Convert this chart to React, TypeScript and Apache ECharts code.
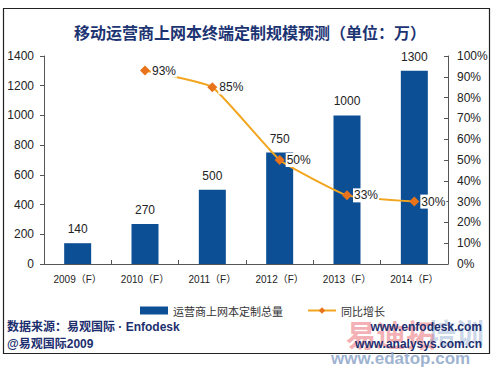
import React, { useEffect, useRef } from "react";
import * as echarts from "echarts";

const categories = ["2009（F）", "2010（F）", "2011（F）", "2012（F）", "2013（F）", "2014（F）"];
const totalVolume = [140, 270, 500, 750, 1000, 1300];
const yoyGrowth: (number | null)[] = [null, 93, 85, 50, 33, 30];
const seriesNames = ["运营商上网本定制总量", "同比增长"];
const titleText = "移动运营商上网本终端定制规模预测（单位：万）";
const sourceLines = ["数据来源：易观国际 · Enfodesk", "@易观国际2009"];
const siteLines = ["www.enfodesk.com", "www.analysys.com.cn"];
const watermark = ["易迪拓", "培训", "www.edatop.com"];

const FONT = "Liberation Sans, Arial, Noto Sans CJK SC, sans-serif";

export default function App() {
  const ref = useRef<HTMLDivElement>(null);
  useEffect(() => {
    if (!ref.current) return;
    const chart = echarts.init(ref.current, null, { renderer: "svg" });
    chart.setOption({
      animation: false,
      backgroundColor: "#ffffff",
      textStyle: { fontFamily: FONT },
      title: {
        text: titleText,
        left: "center",
        top: 19,
        textStyle: { fontSize: 16, fontWeight: "bold", color: "#1d3473", fontFamily: "Noto Sans CJK SC, sans-serif" },
      },
      grid: { left: 44, right: 52, top: 56, bottom: 104, containLabel: false },
      legend: {
        bottom: 47,
        left: 135,
        itemGap: 24,
        itemWidth: 28,
        itemHeight: 8,
        textStyle: { fontSize: 11, color: "#333", fontFamily: "Noto Sans CJK SC, sans-serif" },
        data: [
          { name: seriesNames[0], icon: "rect" },
          { name: seriesNames[1] },
        ],
      },
      xAxis: {
        type: "category",
        data: categories,
        axisLine: { lineStyle: { color: "#555", width: 1 } },
        axisTick: { show: true, alignWithLabel: false, length: 4, inside: true, lineStyle: { color: "#555" } },
        axisLabel: { fontSize: 10, color: "#222", margin: 10 },
      },
      yAxis: [
        {
          type: "value",
          min: 0,
          max: 1400,
          interval: 200,
          axisLine: { show: true, lineStyle: { color: "#555" } },
          axisTick: { show: true, length: 4, lineStyle: { color: "#555" } },
          splitLine: { show: false },
          axisLabel: { fontSize: 12, color: "#222", margin: 10, formatter: (v: number) => String(v) },
        },
        {
          type: "value",
          min: 0,
          max: 100,
          interval: 10,
          position: "right",
          axisLine: { show: true, lineStyle: { color: "#555" } },
          axisTick: { show: true, inside: true, length: 4, lineStyle: { color: "#555" } },
          splitLine: { show: false },
          axisLabel: { fontSize: 12, color: "#222", margin: 9, formatter: "{value}%" },
        },
      ],
      series: [
        {
          name: seriesNames[0],
          type: "bar",
          data: totalVolume,
          barWidth: 27,
          itemStyle: { color: "#0d4f94" },
          label: { show: true, position: "top", fontSize: 12, color: "#222", distance: 8 },
        },
        {
          name: seriesNames[1],
          type: "line",
          yAxisIndex: 1,
          data: yoyGrowth,
          smooth: 0.12,
          symbol: "diamond",
          symbolSize: 10,
          lineStyle: { color: "#f2a51e", width: 2 },
          itemStyle: { color: "#e8731a" },
          label: {
            show: true,
            position: "right",
            distance: 1,
            formatter: "{c}%",
            fontSize: 12,
            color: "#222",
            backgroundColor: "#ffffff",
            padding: [1, 1, 1, 1],
          },
        },
      ],
      graphic: [
        {
          type: "rect",
          shape: { x: 3.5, y: 8.5, width: 486, height: 345 },
          style: { fill: "none", stroke: "#222", lineWidth: 1.2 },
          silent: true,
        },
        {
          type: "text",
          left: 7,
          top: 321,
          style: { text: sourceLines[0], fontSize: 12, fontWeight: "bold", fill: "#1d2f6e", fontFamily: "Liberation Sans, Noto Sans CJK SC, sans-serif" },
        },
        {
          type: "text",
          left: 7,
          top: 338,
          style: { text: sourceLines[1], fontSize: 12, fontWeight: "bold", fill: "#1d2f6e", fontFamily: "Liberation Sans, Noto Sans CJK SC, sans-serif" },
        },
        {
          type: "text",
          x: 346,
          y: 318,
          style: { text: watermark[0], fontSize: 30, fontWeight: "bold", fill: "rgba(232,100,110,0.5)", fontFamily: "Noto Sans CJK SC, sans-serif" },
          z: 1,
        },
        {
          type: "text",
          x: 428,
          y: 318,
          style: { text: watermark[1], fontSize: 28, fontWeight: "bold", fill: "rgba(120,150,200,0.4)", fontFamily: "Noto Sans CJK SC, sans-serif" },
          z: 1,
        },
        {
          type: "text",
          right: 18,
          top: 321,
          z: 10,
          style: { text: siteLines[0], fontSize: 12, fontWeight: "bold", fill: "#1d2f6e", textAlign: "right" },
        },
        {
          type: "text",
          right: 18,
          top: 338,
          z: 10,
          style: { text: siteLines[1], fontSize: 12, fontWeight: "bold", fill: "#1d2f6e", textAlign: "right" },
        },
        {
          type: "text",
          x: 331,
          y: 350,
          style: { text: watermark[2], fontSize: 17, fontWeight: "bold", fill: "rgba(140,165,200,0.85)", fontFamily: "Liberation Sans, sans-serif" },
        },
      ],
    });
    return () => chart.dispose();
  }, []);
  return <div ref={ref} style={{ width: 500, height: 368, position: "absolute", left: 0, top: 0 }} />;
}
